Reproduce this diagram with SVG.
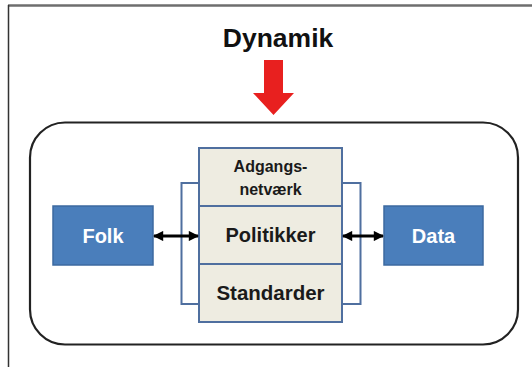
<svg xmlns="http://www.w3.org/2000/svg" width="532" height="367" viewBox="0 0 532 367">
<style>
.lbl{font-family:"Liberation Sans",Arial,sans-serif;font-weight:bold;text-anchor:middle}
.blue{fill:#4a7ebb;stroke:#3d6aa0;stroke-width:1.5}
.cell{fill:#eeece1;stroke:#4f6f9f;stroke-width:2}
.brk{fill:none;stroke:#4f6f9f;stroke-width:2}
.conn{stroke:#000;stroke-width:3;fill:none}
</style>
<defs>
<marker id="ah" viewBox="0 0 10 10" refX="9" refY="5" markerWidth="4" markerHeight="3.4" orient="auto-start-reverse" markerUnits="strokeWidth">
<path d="M0,0 L10,5 L0,10 z" fill="#000"/>
</marker>
</defs>
<rect width="532" height="367" fill="#fff"/>
<line x1="8" y1="5.5" x2="532" y2="5.5" stroke="#6e6e6e" stroke-width="2.5"/>
<line x1="8.5" y1="5" x2="8.5" y2="367" stroke="#333" stroke-width="1.5"/>
<g id="title">
<text class="lbl" x="278" y="46.5" font-size="26.5" fill="#111">Dynamik</text>
<path d="M264,60 H283 V93 H294 L273.5,115 L253,93 H264 Z" fill="#e8201f"/>
</g>
<g id="frame">
<rect x="30" y="122.5" width="488" height="222" rx="35" ry="35" fill="none" stroke="#222" stroke-width="2.2"/>
</g>
<g id="brackets">
<path class="brk" d="M199,183 H181.5 V304 H199"/>
<path class="brk" d="M342,183 H360.5 V304 H342"/>
</g>
<g id="folk">
<rect class="blue" x="53" y="206" width="100" height="59"/>
<text class="lbl" x="103" y="243" font-size="20" fill="#fff">Folk</text>
</g>
<g id="data">
<rect class="blue" x="384" y="206" width="99" height="59"/>
<text class="lbl" x="433.5" y="243" font-size="20" fill="#fff">Data</text>
</g>
<g id="adgangsnetvaerk">
<rect class="cell" x="199" y="148" width="143" height="58"/>
<text class="lbl" x="270.5" y="171.5" font-size="16" fill="#1a1a1a">Adgangs-</text>
<text class="lbl" x="270.5" y="194.5" font-size="16" fill="#1a1a1a">netværk</text>
</g>
<g id="politikker">
<rect class="cell" x="199" y="206" width="143" height="58"/>
<text class="lbl" x="270.5" y="242" font-size="20" fill="#1a1a1a">Politikker</text>
</g>
<g id="standarder">
<rect class="cell" x="199" y="264" width="143" height="58"/>
<text class="lbl" x="270.5" y="299.5" font-size="20.5" fill="#1a1a1a">Standarder</text>
</g>
<g id="connectors">
<line class="conn" x1="154" y1="236" x2="198" y2="236" marker-start="url(#ah)" marker-end="url(#ah)"/>
<line class="conn" x1="343" y1="236" x2="383" y2="236" marker-start="url(#ah)" marker-end="url(#ah)"/>
</g>
</svg>
